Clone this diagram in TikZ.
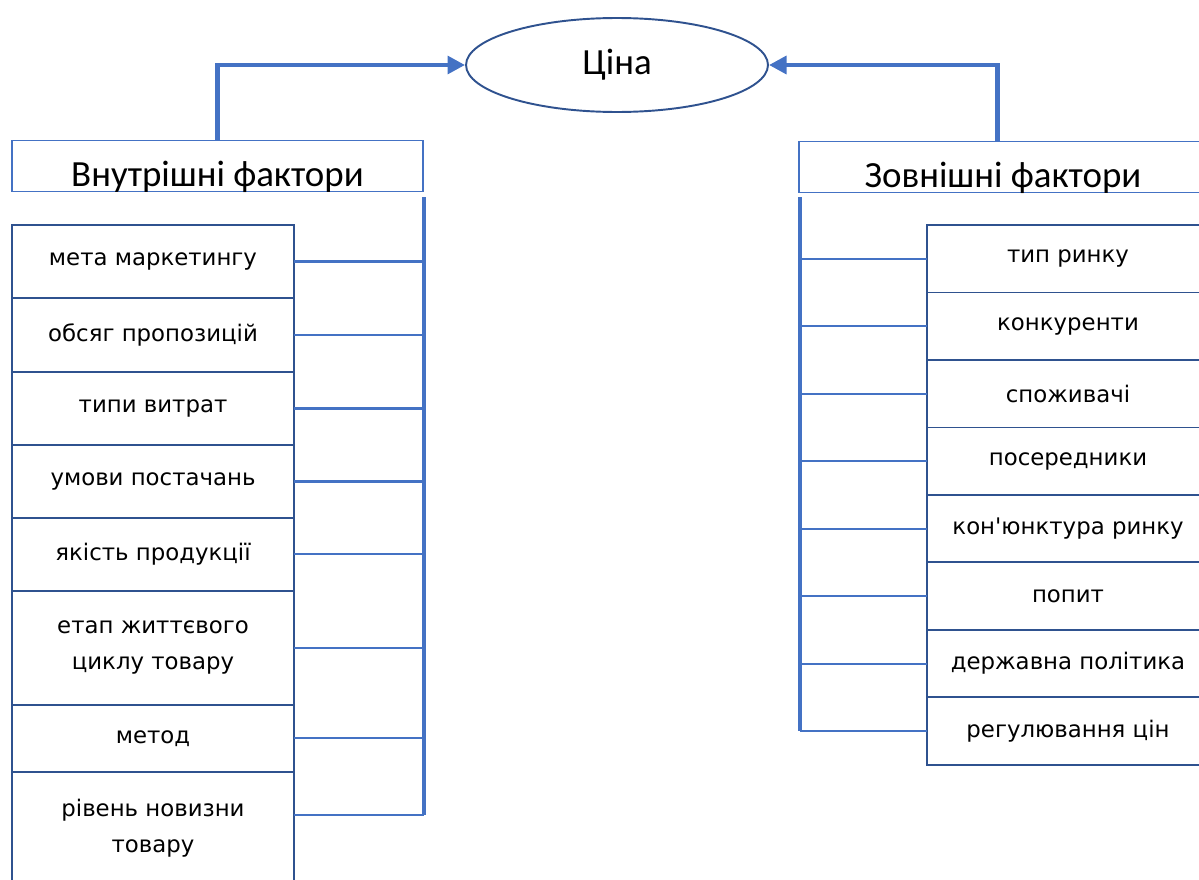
\documentclass[tikz,border=0pt]{standalone}
\usepackage{fontspec}
\setmainfont{Carlito}
\newfontfamily\itemfont{DejaVu Sans}
\usepackage{tikz}
\usetikzlibrary{positioning}
\usetikzlibrary{arrows.meta}
\usetikzlibrary{shapes.geometric}
\definecolor{boxblue}{HTML}{2F528F}
\definecolor{lineblue}{HTML}{4472C4}

\begin{document}
\begin{tikzpicture}[x=0.02cm,y=-0.02cm,node distance=0pt,
    item/.style={draw=boxblue,line width=1.1pt,outer sep=0pt,inner sep=0pt,
      minimum width=5.64cm,align=center,font=\itemfont\fontsize{13}{20.5}\selectfont},
    head/.style={draw=lineblue,line width=1.1pt,outer sep=0pt,minimum height=1.02cm,
      font=\fontsize{21}{24}\selectfont},
    bus/.style={lineblue,line width=2.4pt},
    link/.style={lineblue,line width=1.2pt},
    feed/.style={lineblue,line width=2.8pt,-{Triangle[length=10pt,width=10pt]}}]
   \useasboundingbox (0,0) rectangle (1199,879);
   \node[ellipse,draw=boxblue,line width=1.1pt,minimum width=6.04cm,minimum height=1.88cm,
     font=\fontsize{21}{24}\selectfont] (price) at (617,65) {Ціна};
   \node[head,minimum width=8.22cm] (inner) at (217.5,166)
     {\raisebox{-6pt}[\height][\depth]{Внутрішні фактори}};
   \node[head,minimum width=8.16cm] (outer) at (1003,167)
     {\raisebox{-6pt}[\height][\depth]{Зовнішні фактори}};
   % internal factors
   \node[item,minimum height=1.46cm,anchor=north] (a1) at (153,225) {мета маркетингу};
   \node[item,minimum height=1.48cm] (a2) [below=of a1] {обсяг пропозицій};
   \node[item,minimum height=1.46cm] (a3) [below=of a2] {типи витрат};
   \node[item,minimum height=1.46cm] (a4) [below=of a3] {умови постачань};
   \node[item,minimum height=1.46cm] (a5) [below=of a4] {якість продукції};
   \node[item,minimum height=2.28cm] (a6) [below=of a5] {етап життєвого\\циклу товару};
   \node[item,minimum height=1.34cm] (a7) [below=of a6] {метод};
   \node[item,minimum height=2.24cm] (a8) [below=of a7] {рівень новизни\\товару};
   % external factors
   \node[item,minimum height=1.35cm,anchor=north] (b1) at (1068,225) {тип ринку};
   \node[item,minimum height=1.35cm] (b2) [below=of b1] {конкуренти};
   \node[item,minimum height=1.35cm] (b3) [below=of b2] {споживачі};
   \node[item,minimum height=1.35cm] (b4) [below=of b3] {посередники};
   \node[item,minimum height=1.35cm] (b5) [below=of b4] {кон\textquotesingle юнктура ринку};
   \node[item,minimum height=1.35cm] (b6) [below=of b5] {попит};
   \node[item,minimum height=1.35cm] (b7) [below=of b6] {державна політика};
   \node[item,minimum height=1.35cm] (b8) [below=of b7] {регулювання цін};
   \coordinate (lbus) at (424,197);
   \coordinate (lend) at (424,815);
   \coordinate (rbus) at (800,197);
   \draw[bus] (lbus) -- (lend);
   \draw[bus] (rbus) -- (rbus |- b8.west);
   \foreach \i in {1,...,7}
     \draw[link] (a\i.east) -- (a\i.east -| lbus);
   \draw[link] (a8.east |- lend) -- (lend);
   \foreach \i in {1,...,8}
     \draw[link] (b\i.west -| rbus) -- (b\i.west);
   \draw[feed] (inner.north) |- (price.west);
   \draw[feed] ([xshift=-3.4pt]outer.north) |- (price.east);
\end{tikzpicture}
\end{document}
